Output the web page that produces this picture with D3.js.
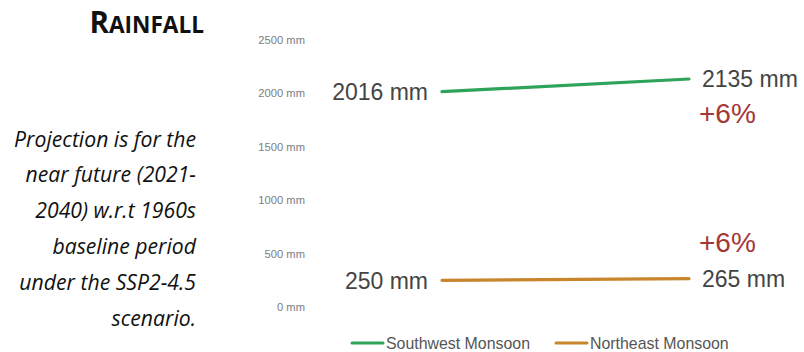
<!DOCTYPE html>
<html>
<head>
<meta charset="utf-8">
<script src="https://cdn.jsdelivr.net/npm/d3@7"></script>
<style>
  body { margin: 0; background: #fff; }
  svg { display: block; }
</style>
</head>
<body>
<svg id="chart" width="804" height="352"></svg>
<script>
var periods = ["Baseline", "Near future"];
var seriesNames = ["Southwest Monsoon", "Northeast Monsoon"];
var southwest = [2016, 2135];
var northeast = [250, 265];
var changes = ["+6%", "+6%"];
var yTicks = [0, 500, 1000, 1500, 2000, 2500];
var noteLines = ["Projection is for the", "near future (2021-", "2040) w.r.t 1960s", "baseline period", "under the SSP2-4.5", "scenario."];

var colors = ["#2ea35a", "#c8852c"];
var svg = d3.select("#chart");

var x = d3.scalePoint().domain(periods).range([442, 689]);
var y = d3.scaleLinear().domain([0, 2500]).range([307, 40]);

// title
var title = svg.append("text")
	.attr("x", 204).attr("y", 33)
	.attr("text-anchor", "end")
	.attr("font-family", "Open Sans")
	.attr("font-weight", "bold")
	.attr("fill", "#111");
title.append("tspan").attr("font-size", 29.5).text("R");
title.append("tspan").attr("font-size", 22.6).text("AINFALL");

// note
svg.append("g").selectAll("text")
	.data(noteLines)
	.enter()
		.append("text")
		.attr("x", 196)
		.attr("y", function(d, i){ return 146.5 + i * 35.8; })
		.attr("text-anchor", "end")
		.attr("font-family", "Open Sans")
		.attr("font-style", "italic")
		.attr("font-size", 21.2)
		.attr("fill", "#111")
		.text(function(d){ return d; });

// y axis (labels only)
var yAxis = d3.axisLeft(y).tickValues(yTicks).tickSize(0).tickPadding(0)
	.tickFormat(function(d){ return d + " mm"; });
var gy = svg.append("g").attr("transform", "translate(305,0)").call(yAxis);
gy.select(".domain").remove();
gy.selectAll("text")
	.attr("font-family", "Liberation Sans, Arial")
	.attr("font-size", 11.2)
	.attr("fill", "#7d7d7d");

var data = [southwest, northeast];

// lines
var line = d3.line()
	.x(function(d, i){ return x(periods[i]); })
	.y(function(d){ return y(d); });

svg.append("g").selectAll("path")
	.data(data)
	.enter()
		.append("path")
		.attr("d", line)
		.attr("fill", "none")
		.attr("stroke", function(d, i){ return colors[i]; })
		.attr("stroke-width", 3.2)
		.attr("stroke-linecap", "round");

// value labels
data.forEach(function(s, i){
	svg.append("text")
		.attr("x", x(periods[0]) - 14)
		.attr("y", y(s[0]))
		.attr("dy", "0.36em")
		.attr("text-anchor", "end")
		.attr("font-family", "Liberation Sans, Arial")
		.attr("font-size", 23)
		.attr("fill", "#444")
		.text(s[0] + " mm");
	svg.append("text")
		.attr("x", x(periods[1]) + 13)
		.attr("y", y(s[1]))
		.attr("dy", "0.36em")
		.attr("text-anchor", "start")
		.attr("font-family", "Liberation Sans, Arial")
		.attr("font-size", 23)
		.attr("fill", "#444")
		.text(s[1] + " mm");
	// percent change: below for the upper line, above for the lower line
	svg.append("text")
		.attr("x", x(periods[1]) + 10)
		.attr("y", y(s[1]) + (i === 0 ? 34 : -37))
		.attr("dy", "0.36em")
		.attr("font-family", "Liberation Sans, Arial")
		.attr("font-size", 28)
		.attr("fill", "#a33838")
		.text(changes[i]);
});

// legend
var legendX = [352, 556];
var lg = svg.append("g").selectAll("g")
	.data(seriesNames)
	.enter()
		.append("g")
		.attr("transform", function(d, i){ return "translate(" + legendX[i] + ",343)"; });
lg.append("line")
	.attr("x1", 0).attr("x2", 31).attr("y1", 0).attr("y2", 0)
	.attr("stroke", function(d, i){ return colors[i]; })
	.attr("stroke-width", 3)
	.attr("stroke-linecap", "round");
lg.append("text")
	.attr("x", 34).attr("y", 0).attr("dy", "0.35em")
	.attr("font-family", "Liberation Sans, Arial")
	.attr("font-size", 15.9)
	.attr("fill", "#555")
	.text(function(d){ return d; });
</script>
</body>
</html>
